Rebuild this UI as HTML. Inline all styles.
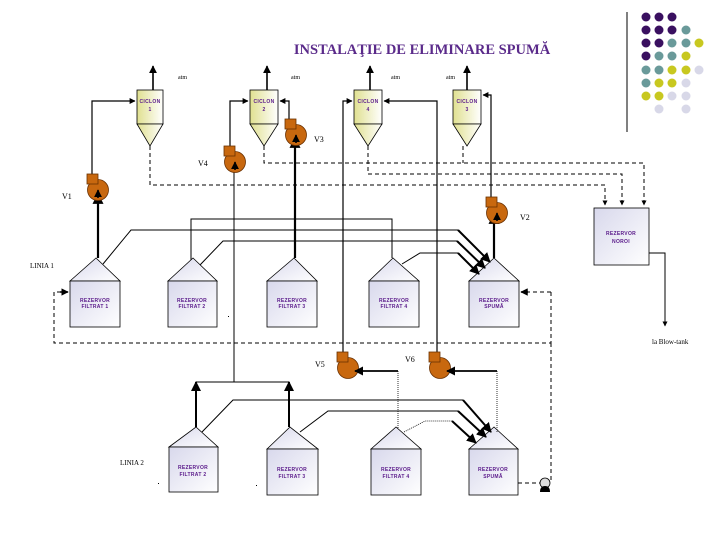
<!DOCTYPE html>
<html><head><meta charset="utf-8"><style>
html,body{margin:0;padding:0;background:#fff;}
svg{display:block;}
text{font-family:"Liberation Serif",serif;}
.s{font-family:"Liberation Sans",sans-serif;font-size:5px;fill:#5a1a8a;text-anchor:middle;font-weight:bold;letter-spacing:0.3px;}
.l{font-size:8px;fill:#000;}
</style></head><body>
<svg width="720" height="540" viewBox="0 0 720 540" xmlns="http://www.w3.org/2000/svg">
<defs>
<linearGradient id="cy" x1="0" y1="0" x2="1" y2="0"><stop offset="0" stop-color="#e0e090"/><stop offset="1" stop-color="#ffffff"/></linearGradient>
<linearGradient id="tk" x1="0" y1="0" x2="1" y2="1"><stop offset="0" stop-color="#d8d8ec"/><stop offset="1" stop-color="#ffffff"/></linearGradient>
<marker id="a" viewBox="0 0 10 10" refX="9" refY="5" markerWidth="5" markerHeight="5" orient="auto"><path d="M0,0L10,5L0,10z" fill="#000"/></marker>
<symbol id="fan" overflow="visible">
<circle cx="0" cy="0" r="10.5" fill="#c8680f" stroke="#6a3000" stroke-width="0.8"/>
<rect x="-11" y="-16" width="11" height="10" fill="#c8680f" stroke="#6a3000" stroke-width="0.8"/>
</symbol>
</defs>

<!-- title -->
<text x="422" y="54" text-anchor="middle" style="font-size:14.5px;font-weight:bold;fill:#5a2a8a">INSTALAŢIE DE ELIMINARE SPUMĂ</text>

<!-- dots -->
<g>
<line x1="627" y1="12" x2="627" y2="132" stroke="#000" stroke-width="1"/>
<g fill="#3a1060">
<circle cx="646" cy="17" r="4.5"/><circle cx="659" cy="17" r="4.5"/><circle cx="672" cy="17" r="4.5"/>
<circle cx="646" cy="30" r="4.5"/><circle cx="659" cy="30" r="4.5"/><circle cx="672" cy="30" r="4.5"/>
<circle cx="646" cy="43" r="4.5"/><circle cx="659" cy="43" r="4.5"/>
<circle cx="646" cy="56" r="4.5"/>
</g>
<g fill="#6a9a9a">
<circle cx="686" cy="30" r="4.5"/><circle cx="672" cy="43" r="4.5"/><circle cx="686" cy="43" r="4.5"/>
<circle cx="659" cy="56" r="4.5"/><circle cx="672" cy="56" r="4.5"/>
<circle cx="646" cy="70" r="4.5"/><circle cx="659" cy="70" r="4.5"/><circle cx="646" cy="83" r="4.5"/>
</g>
<g fill="#c8c820">
<circle cx="699" cy="43" r="4.5"/><circle cx="686" cy="56" r="4.5"/><circle cx="672" cy="70" r="4.5"/><circle cx="686" cy="70" r="4.5"/>
<circle cx="659" cy="83" r="4.5"/><circle cx="672" cy="83" r="4.5"/><circle cx="646" cy="96" r="4.5"/><circle cx="659" cy="96" r="4.5"/>
</g>
<g fill="#d8d8e8">
<circle cx="699" cy="70" r="4.5"/><circle cx="686" cy="83" r="4.5"/><circle cx="672" cy="96" r="4.5"/><circle cx="686" cy="96" r="4.5"/>
<circle cx="659" cy="109" r="4.5"/><circle cx="686" cy="109" r="4.5"/>
</g>
</g>

<!-- cyclones -->
<g stroke="#000" stroke-width="0.8" fill="url(#cy)">
<rect x="137" y="90" width="26" height="34"/><path d="M137,124L163,124L150,146z"/>
<rect x="250" y="90" width="28" height="34"/><path d="M250,124L278,124L264,146z"/>
<rect x="354" y="90" width="28" height="34"/><path d="M354,124L382,124L368,146z"/>
<rect x="453" y="90" width="28" height="34"/><path d="M453,124L481,124L467,146z"/>
</g>
<text class="s" x="150" y="103">CICLON</text><text class="s" x="150" y="111">1</text>
<text class="s" x="264" y="103">CICLON</text><text class="s" x="264" y="111">2</text>
<text class="s" x="368" y="103">CICLON</text><text class="s" x="368" y="111">4</text>
<text class="s" x="467" y="103">CICLON</text><text class="s" x="467" y="111">3</text>
<g stroke="#000" stroke-width="1.6" marker-end="url(#a)">
<line x1="153" y1="90" x2="153" y2="66"/><line x1="267" y1="90" x2="267" y2="66"/>
<line x1="370" y1="90" x2="370" y2="66"/><line x1="467" y1="90" x2="467" y2="66"/>
</g>
<g style="font-size:6px">
<text x="178" y="79">atm</text><text x="291" y="79">atm</text><text x="391" y="79">atm</text><text x="446" y="79">atm</text>
</g>

<!-- dashed cyclone outlets to noroi -->
<g fill="none" stroke="#000" stroke-width="1" stroke-dasharray="4,3">
<path d="M150,146V185H605V205" marker-end="url(#a)"/>
<path d="M264,146V163H644V205" marker-end="url(#a)"/>
<path d="M463,146V163"/>
<path d="M368,146V174H622V205" marker-end="url(#a)"/>
</g>

<!-- upper feed lines -->
<g fill="none" stroke="#000" stroke-width="1.2">
<path d="M92,175V101H135" marker-end="url(#a)"/>
<path d="M230,147V101H248" marker-end="url(#a)"/>
<path d="M289,120V101H280" marker-end="url(#a)"/>
<path d="M343,355V101H352" marker-end="url(#a)"/>
<path d="M437,355V101H384" marker-end="url(#a)"/>
<path d="M491,200V95H483" marker-end="url(#a)"/>
</g>
<!-- thick lines from tanks to fans -->
<g stroke="#000" stroke-width="2.2" marker-end="url(#a)">
<line x1="98" y1="258" x2="98" y2="194"/>
<line x1="295" y1="258" x2="295" y2="138"/>
<line x1="494" y1="258" x2="494" y2="214"/>
</g>
<line x1="234" y1="165" x2="234" y2="382" stroke="#000" stroke-width="1"/>

<!-- fans -->
<use href="#fan" x="98" y="190"/>
<use href="#fan" x="235" y="162"/>
<use href="#fan" x="296" y="135"/>
<use href="#fan" x="497" y="213"/>
<use href="#fan" x="348" y="368"/>
<use href="#fan" x="440" y="368"/>
<g stroke="#000" stroke-width="1.6">
<line x1="98" y1="198" x2="98" y2="190" marker-end="url(#a)"/>
<line x1="235" y1="170" x2="235" y2="162" marker-end="url(#a)"/>
<line x1="296" y1="143" x2="296" y2="135" marker-end="url(#a)"/>
<line x1="497" y1="221" x2="497" y2="213" marker-end="url(#a)"/>
</g>
<g class="l">
<text x="62" y="199" class="l">V1</text><text x="198" y="166" class="l">V4</text><text x="314" y="142" class="l">V3</text>
<text x="520" y="220" class="l">V2</text><text x="315" y="367" class="l">V5</text><text x="405" y="362" class="l">V6</text>
</g>

<!-- line 1 tanks -->
<g stroke="#000" stroke-width="0.8" fill="url(#tk)">
<path d="M70,281L96,258L120,281z"/><rect x="70" y="281" width="50" height="46"/>
<path d="M168,281L193,258L217,281z"/><rect x="168" y="281" width="49" height="46"/>
<path d="M267,281L294,258L317,281z"/><rect x="267" y="281" width="50" height="46"/>
<path d="M369,281L393,258L419,281z"/><rect x="369" y="281" width="50" height="46"/>
<path d="M469,281L494,258L519,281z"/><rect x="469" y="281" width="50" height="46"/>
<rect x="594" y="208" width="55" height="57"/>
</g>
<g class="s">
<text class="s" x="95" y="302">REZERVOR</text><text class="s" x="95" y="308">FILTRAT 1</text>
<text class="s" x="192" y="302">REZERVOR</text><text class="s" x="192" y="308">FILTRAT 2</text>
<text class="s" x="292" y="302">REZERVOR</text><text class="s" x="292" y="308">FILTRAT 3</text>
<text class="s" x="394" y="302">REZERVOR</text><text class="s" x="394" y="308">FILTRAT 4</text>
<text class="s" x="494" y="302">REZERVOR</text><text class="s" x="494" y="308">SPUMĂ</text>
<text class="s" x="621" y="235">REZERVOR</text><text class="s" x="621" y="243">NOROI</text>
</g>
<text x="30" y="268" style="font-size:7px">LINIA 1</text>

<!-- line 1 connections to spuma -->
<g fill="none" stroke="#000" stroke-width="1">
<path d="M191,260V219H392V258"/>
<path d="M103,264L131,230H458"/>
<path d="M200,265L223,241H457"/>
<path d="M402,264L420,253H458"/>
</g>
<g stroke="#000" stroke-width="2" marker-end="url(#a)">
<line x1="458" y1="230" x2="490" y2="262"/>
<line x1="457" y1="241" x2="485" y2="268"/>
<line x1="458" y1="253" x2="479" y2="274"/>
</g>

<!-- noroi to blow tank -->
<path d="M649,253H665V326" fill="none" stroke="#000" stroke-width="1" marker-end="url(#a)"/>
<text x="652" y="344" style="font-size:7px">la Blow-tank</text>

<!-- dashed return loop -->
<g fill="none" stroke="#000" stroke-width="1" stroke-dasharray="4,3">
<path d="M551,292V343H54V292H67" />
<path d="M551,292H522"/>
<path d="M551,343V483"/>
<path d="M518,483H540"/>
</g>
<g stroke="#000" stroke-width="1.5" marker-end="url(#a)">
<line x1="60" y1="292" x2="68" y2="292"/><line x1="528" y1="292" x2="521" y2="292"/>
</g>
<circle cx="545" cy="483" r="5" fill="#ddd" stroke="#000" stroke-width="0.8"/>
<path d="M540,492Q540,486 545,486Q550,486 550,492z" fill="#000"/>

<!-- line 2 -->
<path d="M196,382H289" stroke="#000" stroke-width="1" fill="none"/>
<g stroke="#000" stroke-width="2" marker-end="url(#a)">
<line x1="196" y1="427" x2="196" y2="382"/>
<line x1="289" y1="427" x2="289" y2="382"/>
</g>
<g stroke="#000" stroke-width="0.8" fill="url(#tk)">
<path d="M169,447L196,427L218,447z"/><rect x="169" y="447" width="49" height="45"/>
<path d="M267,449L290,427L318,449z"/><rect x="267" y="449" width="51" height="46"/>
<path d="M371,449L396,427L421,449z"/><rect x="371" y="449" width="50" height="46"/>
<path d="M469,449L494,427L518,449z"/><rect x="469" y="449" width="49" height="46"/>
</g>
<g>
<text class="s" x="193" y="469">REZERVOR</text><text class="s" x="193" y="476">FILTRAT 2</text>
<text class="s" x="292" y="471">REZERVOR</text><text class="s" x="292" y="478">FILTRAT 3</text>
<text class="s" x="396" y="471">REZERVOR</text><text class="s" x="396" y="478">FILTRAT 4</text>
<text class="s" x="493" y="471">REZERVOR</text><text class="s" x="493" y="478">SPUMĂ</text>
</g>
<text x="120" y="465" style="font-size:7px">LINIA 2</text>

<g fill="none" stroke="#000" stroke-width="1">
<path d="M202,432L233,400H463"/>
<path d="M300,432L328,411H458"/>
<path d="M398,371H355" stroke-width="1.8" marker-end="url(#a)"/>
<path d="M497,371H447" stroke-width="1.8" marker-end="url(#a)"/>
</g>
<g fill="none" stroke="#000" stroke-width="0.8" stroke-dasharray="1,1">
<path d="M398,371V428"/>
<path d="M497,371V432"/>
<path d="M404,432L425,421H452"/>
</g>
<g stroke="#000" stroke-width="2" marker-end="url(#a)">
<line x1="463" y1="400" x2="491" y2="432"/>
<line x1="458" y1="411" x2="486" y2="437"/>
<line x1="452" y1="421" x2="476" y2="443"/>
</g>
<g fill="#000">
<rect x="158" y="483" width="1" height="1"/><rect x="256" y="485" width="1" height="1"/><rect x="228" y="316" width="1" height="1"/>
</g>
</svg>
</body></html>
